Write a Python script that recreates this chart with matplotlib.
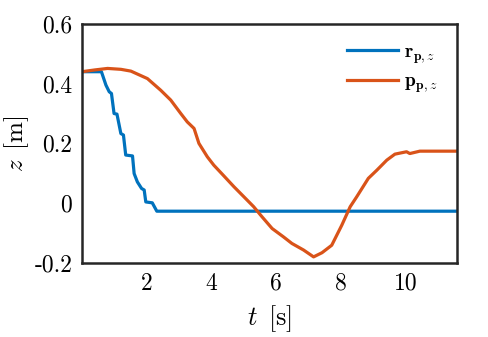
import matplotlib
matplotlib.use("Agg")
import matplotlib.pyplot as plt

plt.rcParams["font.family"] = "serif"
plt.rcParams["font.serif"] = ["cmr10", "DejaVu Serif"]
plt.rcParams["mathtext.fontset"] = "cm"
plt.rcParams["axes.unicode_minus"] = False
plt.rcParams["axes.formatter.use_mathtext"] = True

# reference r_p,z (stepwise descent then flat)
t_ref = [0.0, 0.60, 0.74, 0.84, 0.91, 0.99, 1.08, 1.20, 1.28, 1.35, 1.56,
         1.61, 1.71, 1.84, 1.92, 1.97, 2.17, 2.31, 11.57]
z_ref = [0.440, 0.440, 0.395, 0.373, 0.367, 0.300, 0.298, 0.233, 0.228, 0.161,
         0.158, 0.099, 0.071, 0.049, 0.044, 0.004, 0.001, -0.027, -0.027]

# measured p_p,z
t_pos = [0.0, 0.40, 0.79, 1.20, 1.51, 2.02, 2.43, 2.74, 3.05, 3.25, 3.46, 3.61,
         3.87, 4.07, 4.33, 4.69, 5.00, 5.30, 5.56, 5.87, 6.22, 6.48, 6.84, 7.15,
         7.41, 7.71, 8.02, 8.28, 8.48, 8.84, 9.10, 9.41, 9.66, 10.02, 10.12,
         10.43, 11.57]
z_pos = [0.440, 0.446, 0.451, 0.448, 0.442, 0.417, 0.378, 0.345, 0.300, 0.272,
         0.250, 0.200, 0.155, 0.127, 0.097, 0.055, 0.021, -0.012, -0.046, -0.085,
         -0.113, -0.135, -0.157, -0.180, -0.166, -0.141, -0.074, -0.012, 0.021,
         0.083, 0.110, 0.144, 0.164, 0.172, 0.166, 0.174, 0.174]

x_ticks = [2, 4, 6, 8, 10]
y_ticks = [-0.2, 0, 0.2, 0.4, 0.6]
y_tick_labels = ["-0.2", "0", "0.2", "0.4", "0.6"]

fig = plt.figure(figsize=(4.88, 3.37), dpi=100)
ax = fig.add_axes([0.168, 0.22, 0.768, 0.709])

ax.plot(t_ref, z_ref, color="#0072BD", lw=2.3, label=r"$\mathbf{r}_{\mathbf{p},z}$")
ax.plot(t_pos, z_pos, color="#D95319", lw=2.3, label=r"$\mathbf{p}_{\mathbf{p},z}$")

ax.set_xlim(0, 11.57)
ax.set_ylim(-0.2, 0.6)
ax.set_xticks(x_ticks)
ax.set_xticklabels([str(v) for v in x_ticks])
ax.set_yticks(y_ticks)
ax.set_yticklabels(y_tick_labels)
ax.tick_params(length=0, labelsize=17, pad=7)

for s in ax.spines.values():
    s.set_linewidth(1.8)
    s.set_color("#262626")

ax.set_xlabel(r"$t\ \,[\mathrm{s}]$", fontsize=19, labelpad=6)
ax.set_ylabel(r"$z\ \,[\mathrm{m}]$", fontsize=18, labelpad=2)

ax.legend(loc="upper right", frameon=False, fontsize=14, handlelength=2.6,
          borderaxespad=0.6, labelspacing=0.35, handletextpad=0.3)

fig.savefig("out.png", dpi=100)
